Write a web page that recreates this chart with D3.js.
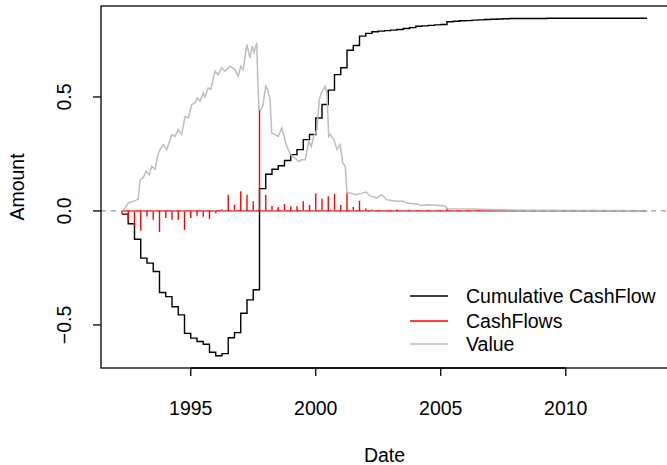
<!DOCTYPE html>
<html lang="en">
<head>
<meta charset="UTF-8">
<title>Cash flows</title>
<script src="https://d3js.org/d3.v7.min.js"></script>
<style>
  body { margin: 0; background: #fff; }
  svg { display: block; font-family: "Liberation Sans", Arial, sans-serif; }
  text { font-size: 19.5px; fill: #000; }
</style>
</head>
<body>
<svg width="667" height="465"></svg>
<script>
// quarterly cash flows, first quarter 1992.25
const firstQuarter = 1992.25;
const cashFlows = [
  -0.015, -0.046, -0.068, -0.087, -0.024, -0.039, -0.093, -0.031, -0.039, -0.039,
  -0.083, -0.031, -0.021, -0.025, -0.036, -0.010, 0.007, 0.071, 0.027, 0.086,
  0.071, 0.042, 0.445, 0.070, 0.022, 0.017, 0.030, 0.020, 0.021, 0.042,
  0.026, 0.077, 0.053, 0.064, 0.075, 0.026, 0.082, 0.017, 0.045, 0.011,
  0.006, 0.003, 0.003, 0.004, 0.006, 0.003, 0.005, 0.004, 0.003, 0.004,
  0.003, 0.003, 0.014, 0.003, 0.002, 0.003, 0.002, 0.002, 0.002, 0.001,
  0.002, 0.001, 0.001, 0.001, 0.001, 0.001, 0.001, 0.001, 0.001, 0.001,
  0.001, 0.001, 0.001, 0.001, 0.001, 0.001, 0.001, 0.001, 0.001, 0.001,
  0.001, 0.001, 0.001, 0.001, 0.001
];
const cumulative = [
  -0.014, -0.056, -0.124, -0.207, -0.229, -0.266, -0.358, -0.376, -0.420, -0.456,
  -0.537, -0.558, -0.573, -0.585, -0.620, -0.635, -0.626, -0.556, -0.534, -0.449,
  -0.390, -0.346, 0.098, 0.161, 0.183, 0.198, 0.221, 0.247, 0.269, 0.313,
  0.335, 0.408, 0.467, 0.530, 0.598, 0.628, 0.705, 0.726, 0.767, 0.779,
  0.786, 0.789, 0.791, 0.793, 0.796, 0.800, 0.804, 0.810, 0.812, 0.814,
  0.816, 0.818, 0.830, 0.832, 0.834, 0.835, 0.837, 0.838, 0.840, 0.841,
  0.842, 0.843, 0.844, 0.844, 0.844, 0.844, 0.844, 0.844, 0.845, 0.845,
  0.845, 0.845, 0.845, 0.845, 0.845, 0.845, 0.845, 0.845, 0.845, 0.845,
  0.845, 0.845, 0.845, 0.845, 0.845
];
const valueDates = [
  1992.30, 1992.50, 1992.70, 1992.90, 1992.97, 1993.10, 1993.21, 1993.34, 1993.44, 1993.57,
  1993.70, 1993.78, 1993.90, 1994.04, 1994.24, 1994.37, 1994.50, 1994.64, 1994.77, 1994.90,
  1995.04, 1995.17, 1995.26, 1995.37, 1995.50, 1995.57, 1995.70, 1995.80, 1995.97, 1996.10,
  1996.24, 1996.37, 1996.57, 1996.77, 1996.90, 1997.00, 1997.10, 1997.24, 1997.37, 1997.46,
  1997.53, 1997.64, 1997.68, 1997.73, 1997.80, 1997.88, 1998.00, 1998.08, 1998.17, 1998.24,
  1998.37, 1998.50, 1998.64, 1998.75, 1998.85, 1998.97, 1999.05, 1999.18, 1999.32, 1999.45,
  1999.58, 1999.72, 1999.82, 1999.92, 2000.05, 2000.14, 2000.25, 2000.38, 2000.45, 2000.52,
  2000.58, 2000.72, 2000.85, 2000.98, 2001.08, 2001.18, 2001.25, 2001.38, 2001.58, 2001.81,
  2002.01, 2002.17, 2002.44, 2002.64, 2002.84, 2003.24, 2003.50, 2003.64, 2004.04, 2004.21,
  2004.50, 2005.17, 2005.24, 2006.17, 2007.24, 2008.57, 2011.37, 2013.25
];
const valueAmounts = [
  0.000, 0.035, 0.042, 0.052, 0.137, 0.146, 0.174, 0.159, 0.196, 0.183,
  0.252, 0.270, 0.291, 0.269, 0.335, 0.327, 0.357, 0.335, 0.415, 0.408,
  0.467, 0.474, 0.496, 0.481, 0.518, 0.500, 0.540, 0.533, 0.613, 0.598,
  0.628, 0.613, 0.635, 0.620, 0.591, 0.635, 0.620, 0.730, 0.672, 0.723,
  0.694, 0.738, 0.576, 0.445, 0.445, 0.459, 0.547, 0.533, 0.489, 0.342,
  0.335, 0.327, 0.364, 0.320, 0.280, 0.254, 0.239, 0.232, 0.217, 0.225,
  0.225, 0.305, 0.283, 0.327, 0.357, 0.489, 0.525, 0.547, 0.510, 0.327,
  0.335, 0.313, 0.269, 0.291, 0.210, 0.196, 0.080, 0.079, 0.071, 0.077,
  0.083, 0.066, 0.057, 0.071, 0.049, 0.042, 0.042, 0.035, 0.030, 0.024,
  0.027, 0.022, 0.010, 0.008, 0.005, 0.003, 0.002, 0.001
];
const xTicks = [1995, 2000, 2005, 2010];
const yTicks = [-0.5, 0, 0.5];
const legendItems = [
  { label: "Cumulative CashFlow", color: "#000000" },
  { label: "CashFlows", color: "#ff0000" },
  { label: "Value", color: "#bebebe" }
];

const svg = d3.select("svg");
const plot = { left: 101, right: 668, top: 6, bottom: 368 };

const x = d3.scaleLinear().domain([1991.41, 2014.09]).range([plot.left, plot.right]);
const y = d3.scaleLinear().domain([-0.689, 0.899]).range([plot.bottom, plot.top]);

const qDate = i => firstQuarter + i * 0.25;
const cumData = cumulative.map((v, i) => [qDate(i), v]);
const valData = valueDates.map((d, i) => [d, valueAmounts[i]]);

svg.append("clipPath").attr("id", "clip")
  .append("rect")
    .attr("x", plot.left).attr("y", plot.top)
    .attr("width", plot.right - plot.left).attr("height", plot.bottom - plot.top);

const g = svg.append("g").attr("clip-path", "url(#clip)");

// cumulative cash flow
g.append("path")
  .datum(cumData)
  .attr("fill", "none")
  .attr("stroke", "#000")
  .attr("stroke-width", 1.4)
  .attr("d", d3.line().x(d => x(d[0])).y(d => y(d[1])).curve(d3.curveStepAfter));

// cash flow bars
g.append("line")
  .attr("x1", x(qDate(0))).attr("x2", x(qDate(cashFlows.length - 1)))
  .attr("y1", y(0)).attr("y2", y(0))
  .attr("stroke", "#ff0000").attr("stroke-width", 1.2);

g.append("g").selectAll("line")
  .data(cashFlows)
  .join("line")
    .attr("x1", (d, i) => x(qDate(i))).attr("x2", (d, i) => x(qDate(i)))
    .attr("y1", y(0)).attr("y2", d => y(d))
    .attr("stroke", "#ff0000")
    .attr("stroke-width", 1.4);

// value
g.append("path")
  .datum(valData)
  .attr("fill", "none")
  .attr("stroke", "#bebebe")
  .attr("stroke-width", 1.5)
  .attr("d", d3.line().x(d => x(d[0])).y(d => y(d[1])));

// zero line
g.append("line")
  .attr("x1", plot.left).attr("x2", plot.right)
  .attr("y1", y(0)).attr("y2", y(0))
  .attr("stroke", "#9a9a9a")
  .attr("stroke-width", 1.2)
  .attr("stroke-dasharray", "5,5");

// box
svg.append("rect")
  .attr("x", plot.left).attr("y", plot.top)
  .attr("width", plot.right - plot.left).attr("height", plot.bottom - plot.top)
  .attr("fill", "none").attr("stroke", "#000").attr("stroke-width", 1.3);

// x axis
const xAxis = svg.append("g");
xAxis.append("line")
  .attr("x1", x(xTicks[0])).attr("x2", x(xTicks[xTicks.length - 1]))
  .attr("y1", plot.bottom).attr("y2", plot.bottom)
  .attr("stroke", "#000").attr("stroke-width", 1.3);
xAxis.selectAll("line.tick").data(xTicks).join("line")
  .attr("class", "tick")
  .attr("x1", d => x(d)).attr("x2", d => x(d))
  .attr("y1", plot.bottom).attr("y2", plot.bottom + 8)
  .attr("stroke", "#000").attr("stroke-width", 1.3);
xAxis.selectAll("text").data(xTicks).join("text")
  .attr("x", d => x(d)).attr("y", 415)
  .attr("text-anchor", "middle")
  .text(d => d);

// y axis
const yAxis = svg.append("g");
yAxis.selectAll("line").data(yTicks).join("line")
  .attr("x1", plot.left - 8).attr("x2", plot.left)
  .attr("y1", d => y(d)).attr("y2", d => y(d))
  .attr("stroke", "#000").attr("stroke-width", 1.3);
yAxis.selectAll("text").data(yTicks).join("text")
  .attr("transform", d => `translate(71,${y(d)}) rotate(-90)`)
  .attr("text-anchor", "middle")
  .text(d => d3.format(".1f")(d));

svg.append("text")
  .attr("x", (plot.left + plot.right) / 2).attr("y", 462)
  .attr("text-anchor", "middle")
  .text("Date");
svg.append("text")
  .attr("transform", `translate(24,${(plot.top + plot.bottom) / 2}) rotate(-90)`)
  .attr("text-anchor", "middle")
  .text("Amount");

// legend
const legend = svg.append("g");
const rowY = [296, 321, 344];
legendItems.forEach((item, i) => {
  legend.append("line")
    .attr("x1", 410).attr("x2", 448)
    .attr("y1", rowY[i]).attr("y2", rowY[i])
    .attr("stroke", item.color).attr("stroke-width", 1.5);
  legend.append("text")
    .attr("x", 466).attr("y", rowY[i] + 7)
    .text(item.label);
});
</script>
</body>
</html>
